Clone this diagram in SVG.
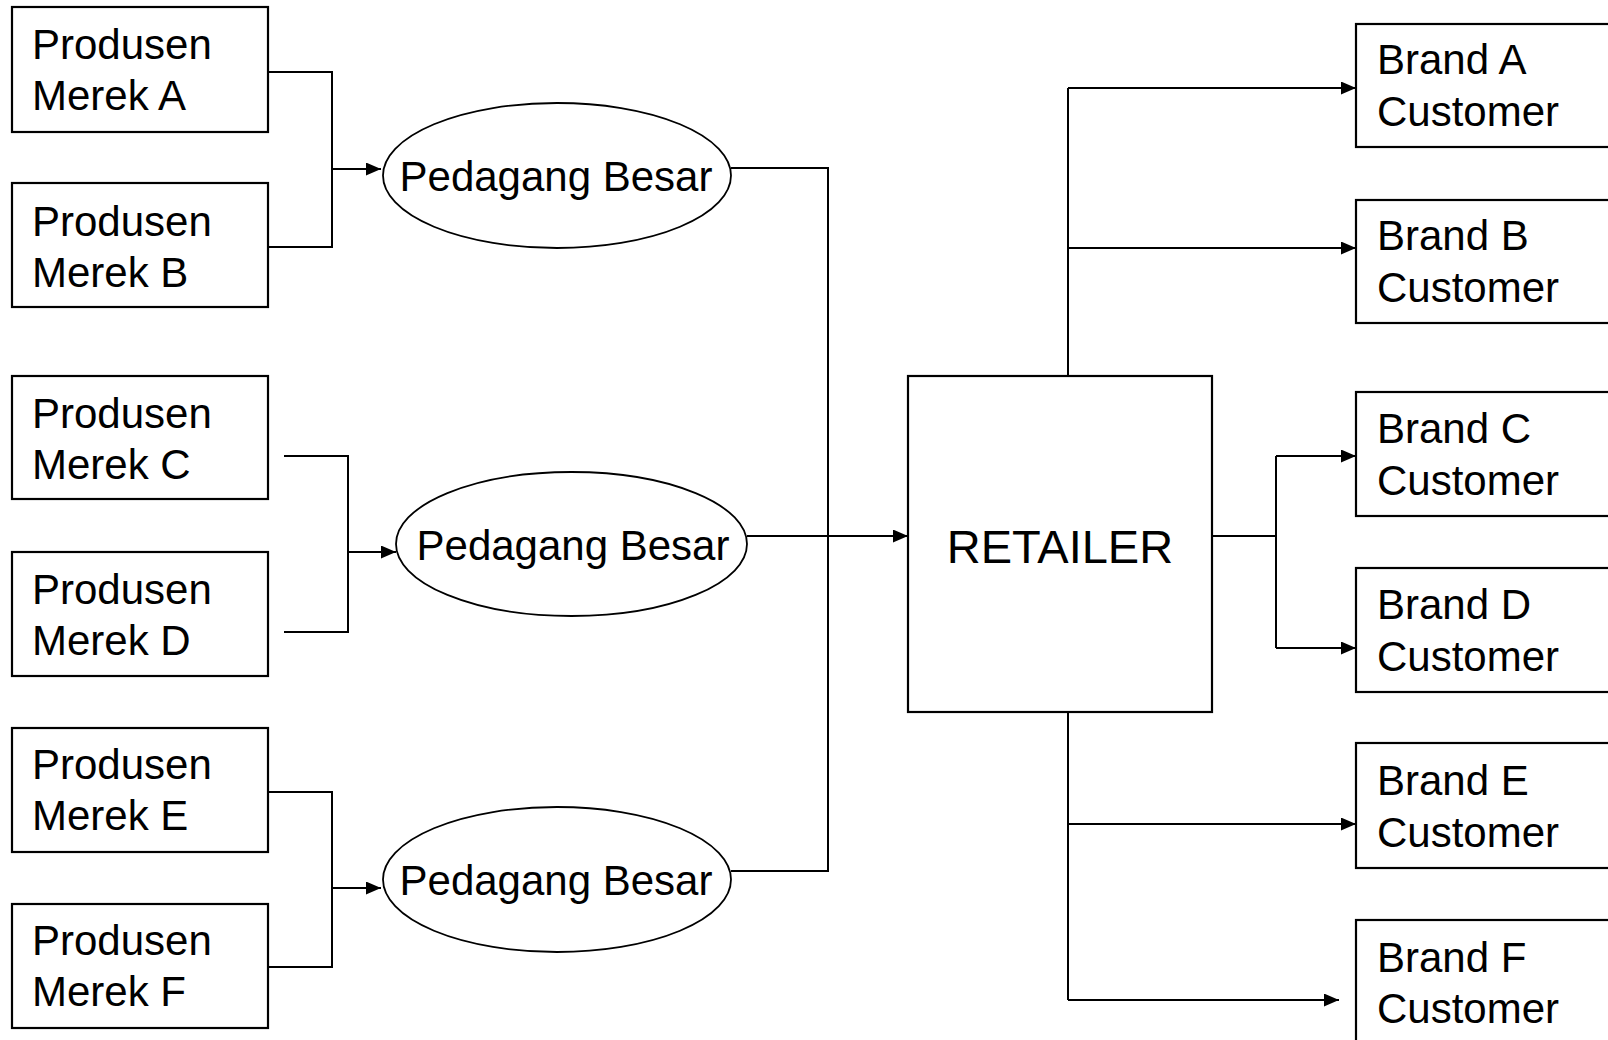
<svg xmlns="http://www.w3.org/2000/svg" width="1608" height="1040" viewBox="0 0 1608 1040">
<style>
.box{fill:#fff;stroke:#000;stroke-width:2.2}
.ell{fill:#fff;stroke:#000;stroke-width:1.8}
.t{font-family:"Liberation Sans",Arial,sans-serif;font-size:42px;fill:#000}
.big{font-size:47px}
.c{fill:none;stroke:#000;stroke-width:2}
</style>
<defs>
<marker id="arr" markerUnits="userSpaceOnUse" markerWidth="16" markerHeight="14" refX="15" refY="6.5" orient="auto">
<path d="M0,0 L15,6.5 L0,13 z" fill="#000"/>
</marker>
</defs>
<rect width="1608" height="1040" fill="#fff"/>

<g id="connectors">
<path class="c" d="M268,72 H332 V247 H268"/>
<path class="c" d="M332,169 H381" marker-end="url(#arr)"/>
<path class="c" d="M284,456 H348 V632 H284"/>
<path class="c" d="M348,552 H396" marker-end="url(#arr)"/>
<path class="c" d="M268,792 H332 V967 H268"/>
<path class="c" d="M332,888 H381" marker-end="url(#arr)"/>
<path class="c" d="M731,168 H828 V871 H731"/>
<path class="c" d="M747,536 H908" marker-end="url(#arr)"/>
<path class="c" d="M1068,376 V88"/>
<path class="c" d="M1068,88 H1356" marker-end="url(#arr)"/>
<path class="c" d="M1068,248 H1356" marker-end="url(#arr)"/>
<path class="c" d="M1212,536 H1276"/>
<path class="c" d="M1276,456 V648"/>
<path class="c" d="M1276,456 H1356" marker-end="url(#arr)"/>
<path class="c" d="M1276,648 H1356" marker-end="url(#arr)"/>
<path class="c" d="M1068,712 V1000"/>
<path class="c" d="M1068,824 H1356" marker-end="url(#arr)"/>
<path class="c" d="M1068,1000 H1339" marker-end="url(#arr)"/>
</g>

<g id="produsen-a"><rect class="box" x="12" y="7" width="256" height="125"/><text class="t" x="32" y="59">Produsen</text><text class="t" x="32" y="110">Merek A</text></g>
<g id="produsen-b"><rect class="box" x="12" y="183" width="256" height="124"/><text class="t" x="32" y="236">Produsen</text><text class="t" x="32" y="287">Merek B</text></g>
<g id="produsen-c"><rect class="box" x="12" y="376" width="256" height="123"/><text class="t" x="32" y="428">Produsen</text><text class="t" x="32" y="479">Merek C</text></g>
<g id="produsen-d"><rect class="box" x="12" y="552" width="256" height="124"/><text class="t" x="32" y="604">Produsen</text><text class="t" x="32" y="655">Merek D</text></g>
<g id="produsen-e"><rect class="box" x="12" y="728" width="256" height="124"/><text class="t" x="32" y="779">Produsen</text><text class="t" x="32" y="830">Merek E</text></g>
<g id="produsen-f"><rect class="box" x="12" y="904" width="256" height="124"/><text class="t" x="32" y="955">Produsen</text><text class="t" x="32" y="1006">Merek F</text></g>

<g id="pedagang-1"><ellipse class="ell" cx="557" cy="175.5" rx="174" ry="72.5"/><text class="t" x="556" y="191" text-anchor="middle">Pedagang Besar</text></g>
<g id="pedagang-2"><ellipse class="ell" cx="571.5" cy="544" rx="175.5" ry="72"/><text class="t" x="573" y="560" text-anchor="middle">Pedagang Besar</text></g>
<g id="pedagang-3"><ellipse class="ell" cx="557" cy="879.5" rx="174" ry="72.5"/><text class="t" x="556" y="895" text-anchor="middle">Pedagang Besar</text></g>

<g id="retailer"><rect class="box" x="908" y="376" width="304" height="336"/><text class="t big" x="1060" y="563" text-anchor="middle">RETAILER</text></g>

<g id="brand-a"><rect class="box" x="1356" y="24" width="270" height="123"/><text class="t" x="1377" y="74">Brand A</text><text class="t" x="1377" y="126">Customer</text></g>
<g id="brand-b"><rect class="box" x="1356" y="200" width="270" height="123"/><text class="t" x="1377" y="250">Brand B</text><text class="t" x="1377" y="302">Customer</text></g>
<g id="brand-c"><rect class="box" x="1356" y="392" width="270" height="124"/><text class="t" x="1377" y="443">Brand C</text><text class="t" x="1377" y="495">Customer</text></g>
<g id="brand-d"><rect class="box" x="1356" y="568" width="270" height="124"/><text class="t" x="1377" y="619">Brand D</text><text class="t" x="1377" y="671">Customer</text></g>
<g id="brand-e"><rect class="box" x="1356" y="743" width="270" height="125"/><text class="t" x="1377" y="795">Brand E</text><text class="t" x="1377" y="847">Customer</text></g>
<g id="brand-f"><rect class="box" x="1356" y="920" width="270" height="140"/><text class="t" x="1377" y="972">Brand F</text><text class="t" x="1377" y="1023">Customer</text></g>
</svg>
